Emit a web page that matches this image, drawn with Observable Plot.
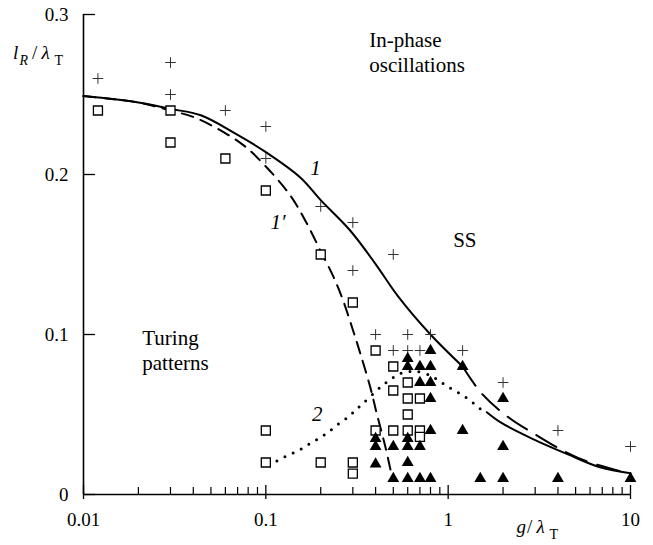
<!DOCTYPE html>
<html>
<head>
<meta charset="utf-8">
<script src="https://cdn.jsdelivr.net/npm/d3@7"></script>
<script src="https://cdn.jsdelivr.net/npm/@observablehq/plot@0.6"></script>
<style>
  html, body { margin: 0; padding: 0; background: #fff; }
  svg text, svg tspan { font-family: "Liberation Serif", "DejaVu Serif", serif !important; }
</style>
</head>
<body>
<div id="chart"></div>
<script>
// ---- tick values and labels ----
const xMajorTicks = [0.01, 0.1, 1, 10];
const xMajorLabels = ["0.01", "0.1", "1", "10"];
const xMinorTicks = [0.02,0.03,0.04,0.05,0.06,0.07,0.08,0.09,0.2,0.3,0.4,0.5,0.6,0.7,0.8,0.9,2,3,4,5,6,7,8,9];
const yTicks = [0, 0.1, 0.2, 0.3];
const yTickLabels = ["0", "0.1", "0.2", "0.3"];

// ---- measured points ----
const plusX = [0.012,0.03,0.03,0.06,0.1,0.1,0.2,0.3,0.5,0.3,0.4,0.6,0.8,0.5,0.6,0.7,1.2,2,4,10];
const plusY = [0.26,0.27,0.25,0.24,0.23,0.21,0.18,0.17,0.15,0.14,0.1,0.1,0.1,0.09,0.09,0.09,0.09,0.07,0.04,0.03];

const squareX = [0.012,0.03,0.03,0.06,0.1,0.2,0.3,0.4,0.5,0.5,0.6,0.6,0.7,0.6,0.4,0.5,0.6,0.7,0.7,0.3,0.3,0.2,0.1,0.1];
const squareY = [0.24,0.24,0.22,0.21,0.19,0.15,0.12,0.09,0.08,0.065,0.07,0.06,0.06,0.05,0.04,0.04,0.04,0.04,0.036,0.02,0.013,0.02,0.04,0.02];

const triX = [0.4,0.4,0.4, 0.5,0.5, 0.6,0.6,0.6,0.6,0.6,0.6, 0.7,0.7,0.7,0.7, 0.8,0.8,0.8,0.8,0.8,0.8, 1.2,1.2, 1.5, 2,2,2, 4, 10];
const triY = [0.035,0.03,0.019, 0.03,0.01, 0.085,0.08,0.035,0.03,0.02,0.01, 0.08,0.07,0.03,0.01, 0.09,0.08,0.07,0.06,0.04,0.01, 0.08,0.04, 0.01, 0.06,0.03,0.01, 0.01, 0.01];

// ---- curves ----
const curve1SolidX = [0.01,0.02,0.03,0.044,0.067,0.1,0.155,0.2,0.29,0.4,0.53,0.8,1.2];
const curve1SolidY = [0.249,0.245,0.241,0.237,0.226,0.214,0.198,0.184,0.165,0.144,0.124,0.1,0.08];
const curve1DashX = [1.2,1.53,2.1,3.06,4.47,6.0,10];
const curve1DashY = [0.08,0.063,0.049,0.037,0.0262,0.0200,0.013];
const curve1pX = [0.01,0.02,0.03,0.042,0.074,0.1,0.136,0.165,0.2,0.235,0.262,0.3,0.33,0.374,0.407,0.452,0.49];
const curve1pY = [0.249,0.245,0.240,0.235,0.219,0.205,0.187,0.171,0.152,0.136,0.123,0.103,0.088,0.067,0.050,0.030,0.012];
const curve2DotX = [0.115,0.135,0.154,0.174,0.197,0.22,0.247,0.279,0.309,0.344,0.424,0.48,0.54,0.65,0.8,0.904,1.01,1.16,1.32,1.5,1.63];
const curve2DotY = [0.021,0.025,0.028,0.0317,0.0354,0.039,0.0437,0.048,0.0525,0.0573,0.067,0.0717,0.0754,0.077,0.0744,0.0706,0.067,0.063,0.0588,0.0535,0.0514];
const curve2SolidX = [1.63,1.93,2.9,4.47,6.8,10];
const curve2SolidY = [0.0514,0.0452,0.0348,0.0254,0.017,0.0133];

// ---- annotations ----
const noteText = ["In-phase\noscillations", "SS", "Turing\npatterns"];
const noteX = [0.369, 1.065, 0.021];
const noteY = [0.264, 0.155, 0.078];
const curveLabelText = ["1", "1\u2032", "2"];
const curveLabelX = [0.175, 0.106, 0.179];
const curveLabelY = [0.2, 0.166, 0.0458];

const FONT = "Liberation Serif, DejaVu Serif, serif";

const pts = (xs, ys) => xs.map((x, i) => ({x, y: ys[i]}));
const yLabelMap = new Map(yTicks.map((t, i) => [t, yTickLabels[i]]));
const xLabelMap = new Map(xMajorTicks.map((t, i) => [t, xMajorLabels[i]]));

const plusSymbol = {
  draw(ctx, size) {
    const r = Math.sqrt(size / Math.PI);
    ctx.moveTo(-r, 0); ctx.lineTo(r, 0);
    ctx.moveTo(0, -r); ctx.lineTo(0, r);
  }
};

const chart = Plot.plot({
  width: 653,
  height: 545,
  marginLeft: 83,
  marginRight: 23,
  marginTop: 14,
  marginBottom: 51,
  x: {type: "log", domain: [0.01, 10]},
  y: {domain: [0, 0.3]},
  style: {fontFamily: FONT, fontSize: "19px", background: "white", color: "black", overflow: "visible"},
  marks: [
    // axes
    Plot.axisY(yTicks, {tickSize: -12, tickPadding: 27, tickFormat: d => yLabelMap.get(d), label: null, strokeWidth: 1.3, fontSize: 19}),
    Plot.axisX(xMinorTicks, {tickSize: -7, fill: "none", label: null, strokeWidth: 1.2}),
    Plot.axisX(xMajorTicks, {tickSize: -9, fill: "none", label: null, strokeWidth: 1.3}),
    Plot.axisX(xMajorTicks, {tickSize: 5, tickPadding: 13, tickFormat: d => xLabelMap.get(d), label: null, strokeWidth: 1.3, fontSize: 19}),
    Plot.ruleX([0.01], {strokeWidth: 1.6}),
    Plot.ruleY([0], {strokeWidth: 1.6}),
    // curves
    Plot.line(pts(curve1SolidX, curve1SolidY), {x: "x", y: "y", curve: "catmull-rom", strokeWidth: 2}),
    Plot.line(pts(curve1DashX, curve1DashY), {x: "x", y: "y", curve: "catmull-rom", strokeWidth: 2, strokeDasharray: "23,11"}),
    Plot.line(pts(curve1pX, curve1pY), {x: "x", y: "y", curve: "catmull-rom", strokeWidth: 2, strokeDasharray: "12,8"}),
    Plot.line(pts(curve2DotX, curve2DotY), {x: "x", y: "y", curve: "catmull-rom", strokeWidth: 3, strokeDasharray: "0,9", strokeLinecap: "round"}),
    Plot.line(pts(curve2SolidX, curve2SolidY), {x: "x", y: "y", curve: "catmull-rom", strokeWidth: 2}),
    // points
    Plot.dot(pts(plusX, plusY), {x: "x", y: "y", symbol: plusSymbol, r: 5.3, fill: "none", stroke: "#333", strokeWidth: 1}),
    Plot.dot(pts(squareX, squareY), {x: "x", y: "y", symbol: "square", r: 5.1, fill: "white", stroke: "black", strokeWidth: 1.3}),
    Plot.dot(pts(triX, triY), {x: "x", y: "y", symbol: "triangle", r: 4.4, fill: "black", stroke: "none"}),
    // annotations
    Plot.text(noteText.map((t, i) => ({t, x: noteX[i], y: noteY[i]})), {x: "x", y: "y", text: "t", textAnchor: "start", lineAnchor: "bottom", lineHeight: 1.2, fontSize: 21, fill: "black"}),
    Plot.text(curveLabelText.map((t, i) => ({t, x: curveLabelX[i], y: curveLabelY[i]})), {x: "x", y: "y", text: "t", textAnchor: "start", lineAnchor: "bottom", fontSize: 21, fontStyle: "italic", fill: "black"})
  ]
});

// axis titles with sub-scripts
const svg = d3.select(chart);
const yl = svg.append("text").attr("text-anchor", "start").attr("font-size", 19).attr("fill", "black");
yl.append("tspan").attr("x", 13).attr("y", 59).attr("font-style", "italic").text("l");
yl.append("tspan").attr("x", 19.5).attr("y", 65).attr("font-style", "italic").attr("font-size", 14).text("R");
yl.append("tspan").attr("x", 32).attr("y", 59).text("/");
yl.append("tspan").attr("x", 41.5).attr("y", 59).attr("font-style", "italic").text("λ");
yl.append("tspan").attr("x", 54.5).attr("y", 65).attr("font-size", 14).text("T");

const xl = svg.append("text").attr("text-anchor", "start").attr("font-size", 19).attr("fill", "black");
xl.append("tspan").attr("x", 516.5).attr("y", 533).attr("font-style", "italic").text("g");
xl.append("tspan").attr("x", 527).attr("y", 533).text("/");
xl.append("tspan").attr("x", 536.5).attr("y", 533).attr("font-style", "italic").text("λ");
xl.append("tspan").attr("x", 549.5).attr("y", 539).attr("font-size", 14).text("T");

document.getElementById("chart").appendChild(chart);
</script>
</body>
</html>
